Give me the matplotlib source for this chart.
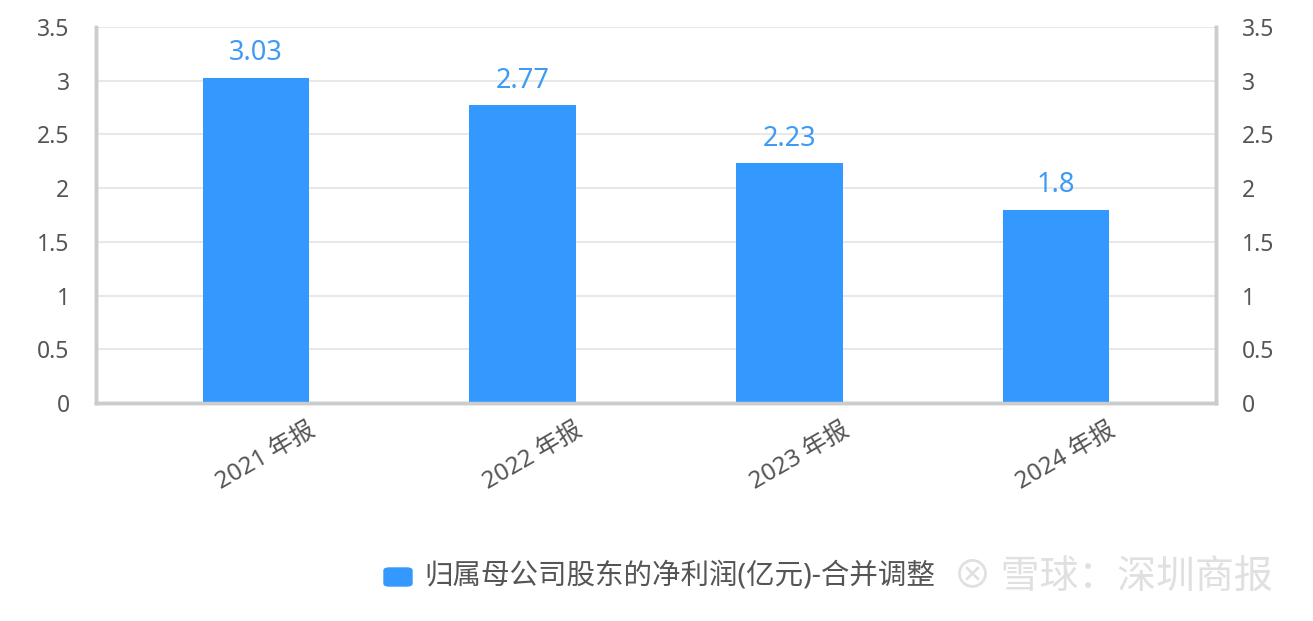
import numpy as np
import matplotlib.pyplot as plt
import matplotlib.transforms as mtransforms
from matplotlib.patches import FancyBboxPatch

plt.rcParams['font.family'] = ['Noto Sans', 'Noto Sans CJK SC', 'DejaVu Sans']

categories = ['2021 年报', '2022 年报', '2023 年报', '2024 年报']
profit = [3.03, 2.77, 2.23, 1.8]
value_labels = ['3.03', '2.77', '2.23', '1.8']
yticks = [0, 0.5, 1, 1.5, 2, 2.5, 3, 3.5]
ytick_labels = ['0', '0.5', '1', '1.5', '2', '2.5', '3', '3.5']
legend_label = '归属母公司股东的净利润(亿元)-合并调整'
watermark = '雪球：深圳商报'

bar_color = '#3399ff'
label_color = '#3d9bf5'
axis_color = '#cccccc'
grid_color = '#e8e8e8'
text_color = '#555555'

fig = plt.figure(figsize=(13.13, 6.21), dpi=100)
ax = fig.add_axes([0.0731, 0.351, 0.853, 0.6055])

x = np.arange(len(categories))
ax.bar(x, profit, width=0.4, color=bar_color, zorder=3)
for xi, v, s in zip(x, profit, value_labels):
    ax.text(xi, v + 0.1, s, ha='center', va='bottom', fontsize=19.5, color=label_color)

ax.set_xlim(-0.6, 3.6)
ax.set_ylim(0, 3.5)
ax.set_yticks(yticks)
ax.set_yticklabels(ytick_labels)
ax.yaxis.grid(True, color=grid_color, linewidth=1.5, zorder=0)
ax.tick_params(axis='y', length=0, pad=19, labelsize=16.5, labelcolor=text_color)
ax.set_xticks(x)
ax.set_xticklabels(categories, rotation=30, ha='right', rotation_mode='anchor')
ax.tick_params(axis='x', length=0, pad=11, labelsize=17.5, labelcolor=text_color)

ax2 = ax.twinx()
ax2.set_ylim(0, 3.5)
ax2.set_yticks(yticks)
ax2.set_yticklabels(ytick_labels)
ax2.tick_params(axis='y', length=0, pad=19, labelsize=16.5, labelcolor=text_color)

for a in (ax, ax2):
    a.spines['top'].set_visible(False)
    for side in ('left', 'right', 'bottom'):
        a.spines[side].set_color(axis_color)
        a.spines[side].set_linewidth(2.5)

# shift x tick labels so their right end sits slightly right of bar center
offset = mtransforms.ScaledTranslation(0.52, 0, fig.dpi_scale_trans)
for lbl in ax.get_xticklabels():
    lbl.set_transform(lbl.get_transform() + offset)

# legend
fig.patches.append(FancyBboxPatch((384 / 1313, 1 - 586 / 621), 28 / 1313, 18 / 621,
                                  boxstyle='round,pad=0,rounding_size=0.004',
                                  transform=fig.transFigure, color=bar_color))
fig.text(424 / 1313, 1 - 576 / 621, legend_label, fontsize=20.5, color=text_color,
         va='center', ha='left')

# watermark
fig.text(953 / 1313, 1 - 578 / 621, '⊗ ' + watermark, fontsize=28, color='#e0e0e0',
         va='center', ha='left',
         family=['Noto Sans CJK SC', 'DejaVu Sans'])

fig.savefig('out.png', dpi=100, facecolor='white')
